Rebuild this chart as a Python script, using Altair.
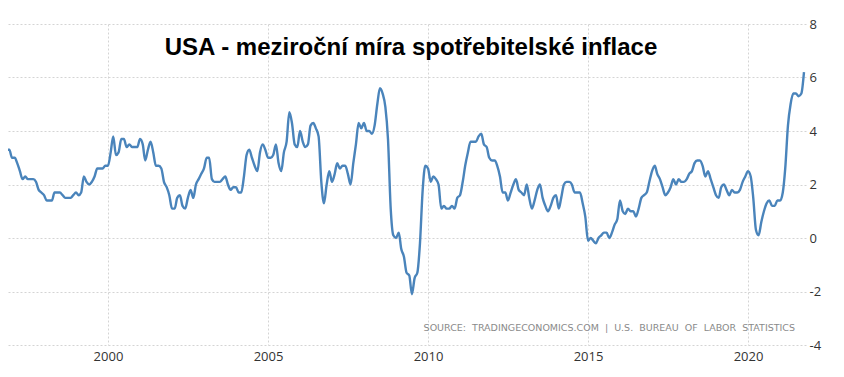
import altair as alt
import pandas as pd

# Monthly US CPI year-over-year (%), Nov 1996 .. Oct 2021
start_month = "1996-11-01"
cpi_yoy = [
    3.3, 3.3,
    3.0, 3.0, 2.8, 2.5, 2.2, 2.3, 2.2, 2.2, 2.2, 2.1, 1.8, 1.7,
    1.6, 1.4, 1.4, 1.4, 1.7, 1.7, 1.7, 1.6, 1.5, 1.5, 1.5, 1.6,
    1.7, 1.6, 1.7, 2.3, 2.1, 2.0, 2.1, 2.3, 2.6, 2.6, 2.6, 2.7,
    2.7, 3.2, 3.8, 3.1, 3.2, 3.7, 3.7, 3.4, 3.5, 3.4, 3.4, 3.4,
    3.7, 3.5, 2.9, 3.3, 3.6, 3.2, 2.7, 2.7, 2.6, 2.1, 1.9, 1.6,
    1.1, 1.1, 1.5, 1.6, 1.2, 1.1, 1.5, 1.8, 1.5, 2.0, 2.2, 2.4,
    2.6, 3.0, 3.0, 2.2, 2.1, 2.1, 2.1, 2.2, 2.3, 2.0, 1.8, 1.9,
    1.9, 1.7, 1.7, 2.3, 3.1, 3.3, 3.0, 2.7, 2.5, 3.2, 3.5, 3.3,
    3.0, 3.0, 3.1, 3.5, 2.8, 2.5, 3.2, 3.6, 4.7, 4.3, 3.5, 3.4,
    4.0, 3.6, 3.4, 3.5, 4.2, 4.3, 4.1, 3.8, 2.1, 1.3, 2.0, 2.5,
    2.1, 2.4, 2.8, 2.6, 2.7, 2.7, 2.4, 2.0, 2.8, 3.5, 4.3, 4.1,
    4.3, 4.0, 4.0, 3.9, 4.2, 5.0, 5.6, 5.4, 4.9, 3.7, 1.1, 0.1,
    0.0, 0.2, -0.4, -0.7, -1.3, -1.4, -2.1, -1.5, -1.3, -0.2, 1.8, 2.7,
    2.6, 2.1, 2.3, 2.2, 2.0, 1.1, 1.2, 1.1, 1.1, 1.2, 1.1, 1.5,
    1.6, 2.1, 2.7, 3.2, 3.6, 3.6, 3.6, 3.8, 3.9, 3.5, 3.4, 3.0,
    2.9, 2.9, 2.7, 2.3, 1.7, 1.7, 1.4, 1.7, 2.0, 2.2, 1.8, 1.7,
    1.6, 2.0, 1.5, 1.1, 1.4, 1.8, 2.0, 1.5, 1.2, 1.0, 1.2, 1.5,
    1.6, 1.1, 1.5, 2.0, 2.1, 2.1, 2.0, 1.7, 1.7, 1.7, 1.3, 0.8,
    -0.1, 0.0, -0.1, -0.2, 0.0, 0.1, 0.2, 0.2, 0.0, 0.2, 0.5, 0.7,
    1.4, 1.0, 0.9, 1.1, 1.0, 1.0, 0.8, 1.1, 1.5, 1.6, 1.7, 2.1,
    2.5, 2.7, 2.4, 2.2, 1.9, 1.6, 1.7, 1.9, 2.2, 2.0, 2.2, 2.1,
    2.1, 2.2, 2.4, 2.5, 2.8, 2.9, 2.9, 2.7, 2.3, 2.5, 2.2, 1.9,
    1.6, 1.5, 1.9, 2.0, 1.8, 1.6, 1.8, 1.7, 1.7, 1.8, 2.1, 2.3,
    2.5, 2.3, 1.5, 0.3, 0.1, 0.6, 1.0, 1.3, 1.4, 1.2, 1.2, 1.4,
    1.4, 1.7, 2.6, 4.2, 5.0, 5.4, 5.4, 5.3, 5.4, 6.2,
]
y_ticks = [-4, -2, 0, 2, 4, 6, 8]
x_tick_years = [2000, 2005, 2010, 2015, 2020]
title_text = "USA - meziroční míra spotřebitelské inflace"
source_text = "SOURCE:\u00a0 TRADINGECONOMICS.COM\u00a0 |\u00a0 U.S.\u00a0 BUREAU\u00a0 OF\u00a0 LABOR\u00a0 STATISTICS"

dates = pd.date_range(start_month, periods=len(cpi_yoy), freq="MS")
df = pd.DataFrame({"date": dates, "value": cpi_yoy})

x_scale = alt.Scale(domain=["1996-11-16", "2021-10-24"])
y_scale = alt.Scale(domain=[-4, 8], nice=False, zero=False)

line = alt.Chart(df).mark_line(
    color="#4a84bb", strokeWidth=2.4, interpolate="monotone"
).encode(
    x=alt.X("date:T", scale=x_scale,
            axis=alt.Axis(title=None, values=[f"{y}-01-01" for y in x_tick_years],
                          format="%Y", labelFontSize=13, labelColor="#333333",
                          labelFont="Open Sans", grid=True, gridColor="#d4d4d4",
                          gridDash=[2, 2], domain=False, ticks=False,
                          labelPadding=5)),
    y=alt.Y("value:Q", scale=y_scale,
            axis=alt.Axis(title=None, orient="right", values=y_ticks,
                          labelExpr="replace(datum.label, '\u2212', '-')",
                          labelFontSize=13, labelColor="#333333",
                          labelFont="Open Sans", grid=True, gridColor="#d4d4d4",
                          gridDash=[2, 2], domain=False, ticks=False,
                          labelPadding=3)),
)

title = alt.Chart(pd.DataFrame({"t": [title_text]})).mark_text(
    font="Liberation Sans", fontSize=24, fontWeight="bold", color="#000000",
    align="center", baseline="alphabetic"
).encode(text="t:N", x=alt.value(403), y=alt.value(31))

source = alt.Chart(pd.DataFrame({"t": [source_text]})).mark_text(
    font="DejaVu Sans", fontSize=9.5, color="#8a8a8a",
    align="right", baseline="middle"
).encode(text="t:N", x=alt.value(787), y=alt.value(304))

chart = alt.layer(line, title, source).properties(
    width=798, height=321,
    autosize=alt.AutoSizeParams(type="none"),
    padding={"left": 0, "top": 16, "right": 25, "bottom": 30},
    background="white",
).configure_view(stroke=None)

chart.save("out.html", embed_options={"renderer": "svg", "actions": False})
